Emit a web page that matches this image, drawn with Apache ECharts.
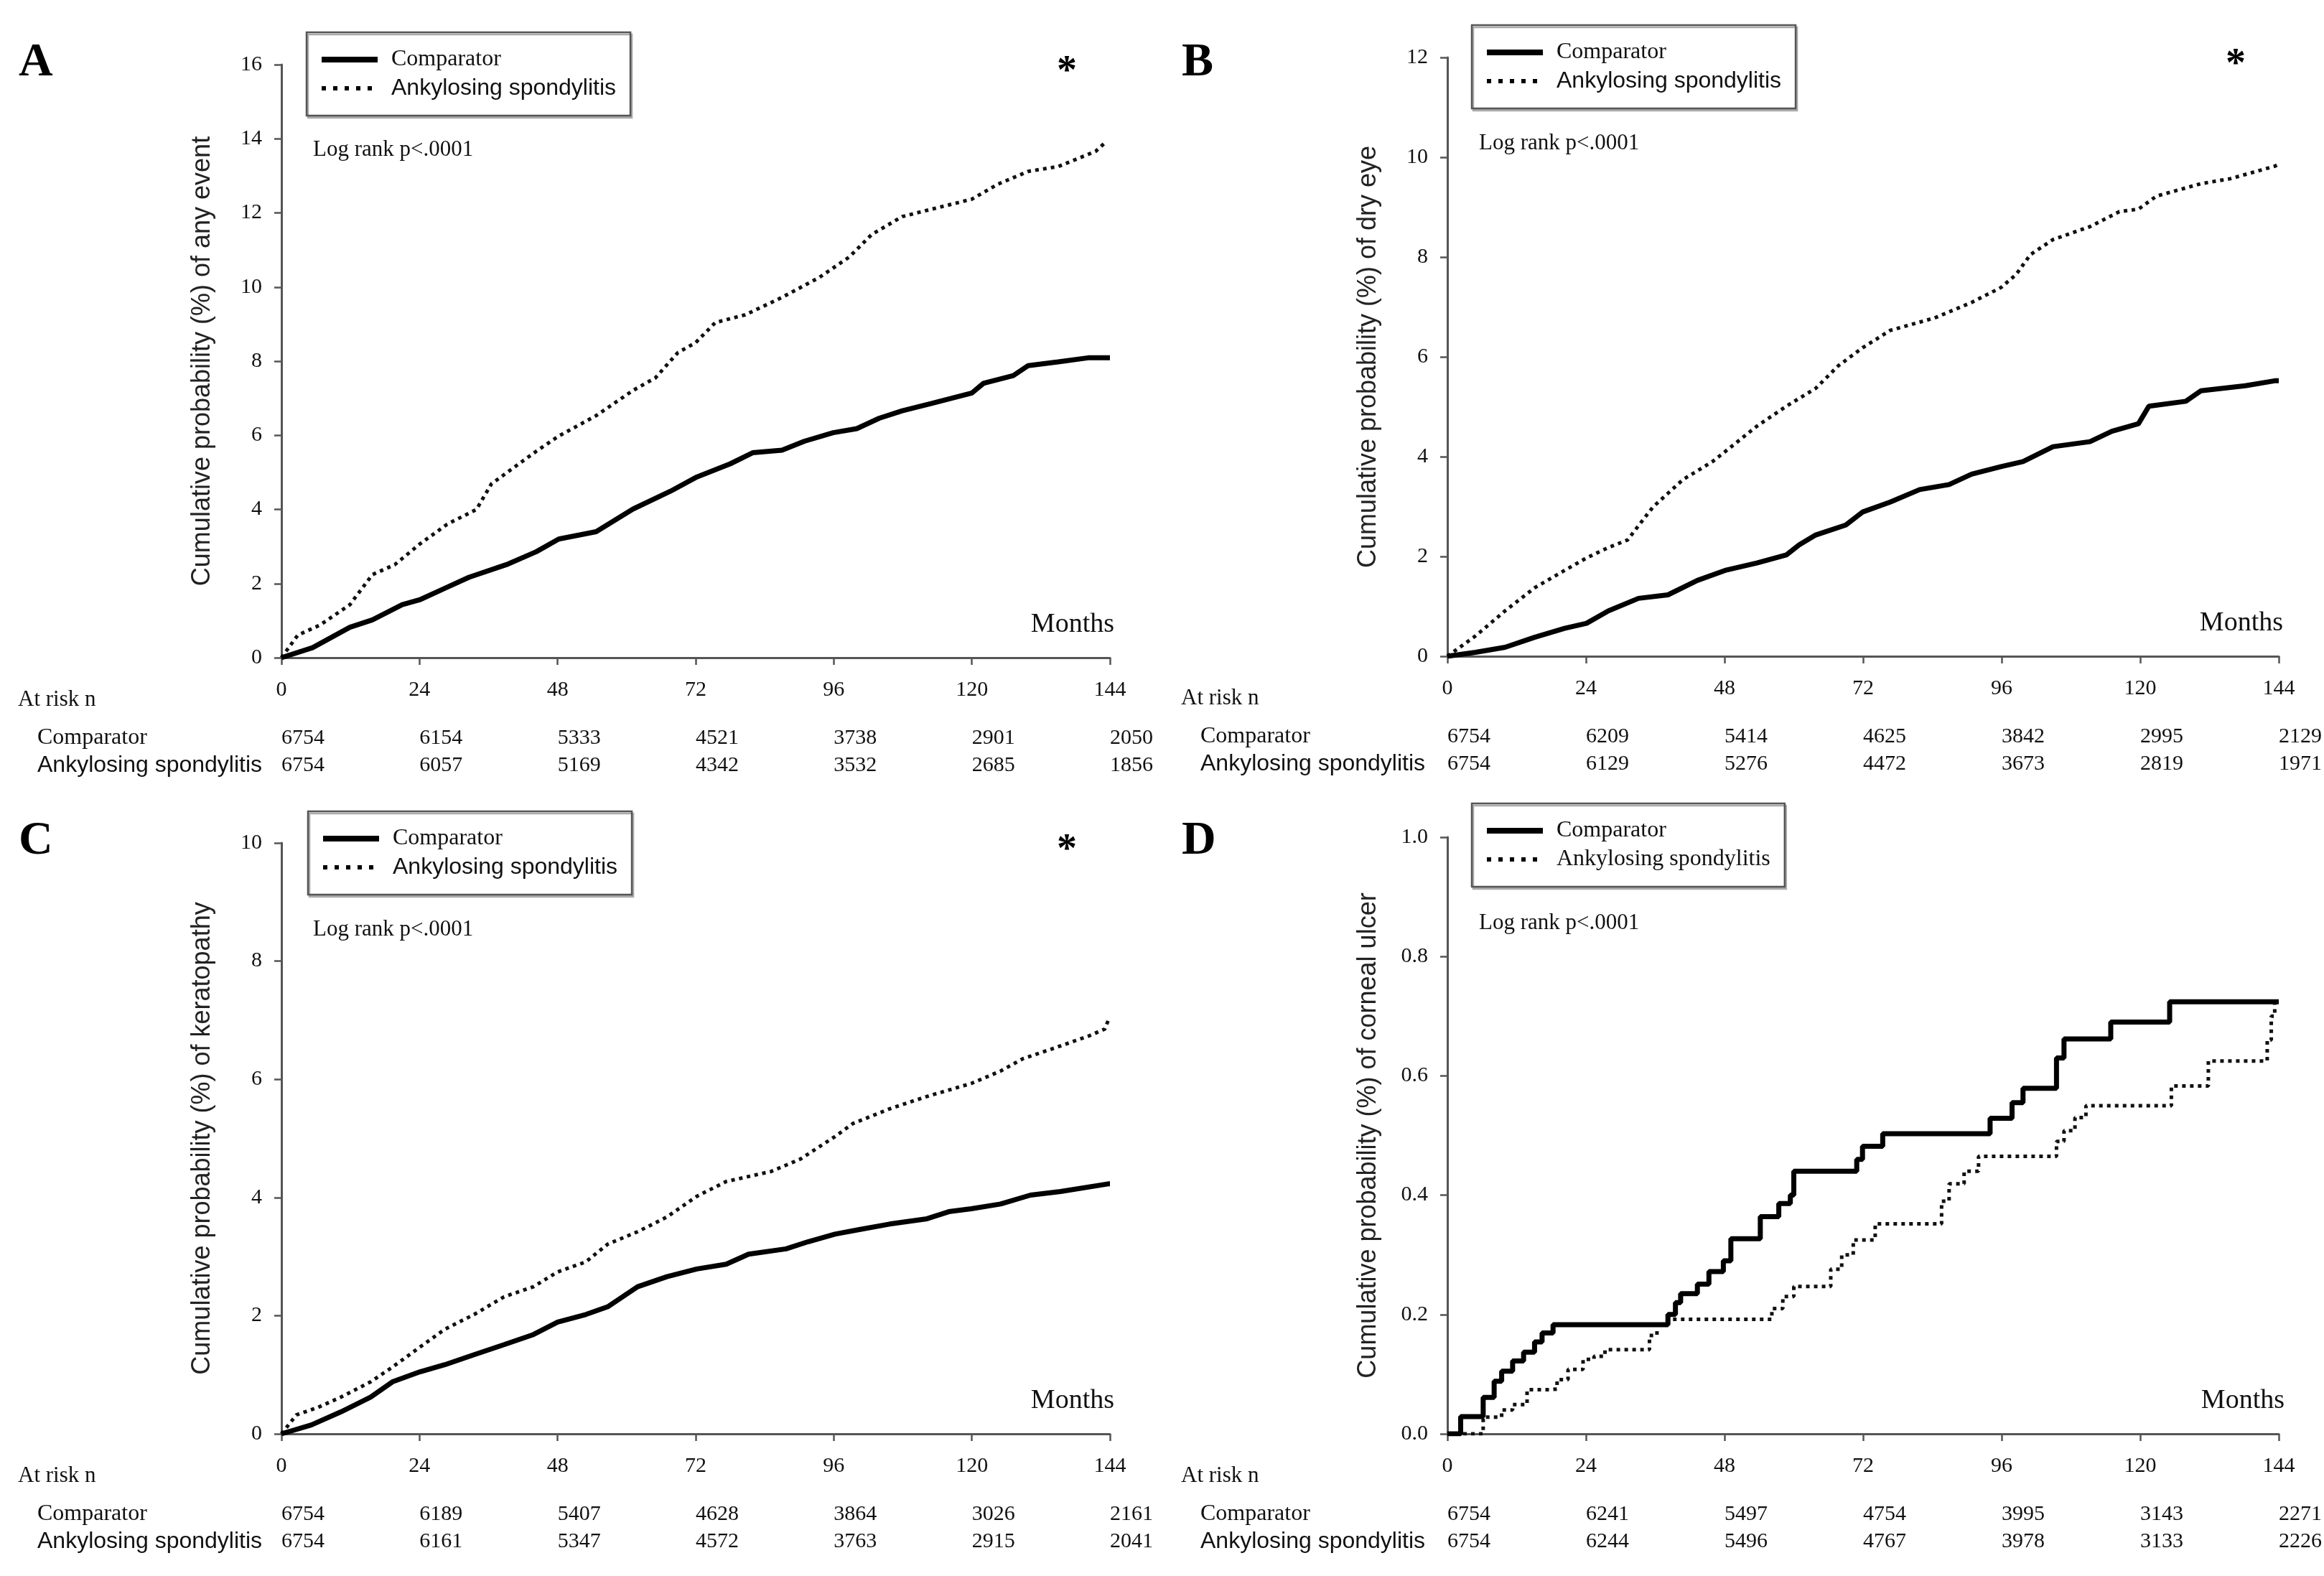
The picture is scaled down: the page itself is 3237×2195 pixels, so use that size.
<!DOCTYPE html>
<html>
<head>
<meta charset="utf-8">
<script src="https://cdn.jsdelivr.net/npm/echarts@6/dist/echarts.min.js"></script>
<style>html,body{margin:0;padding:0;background:#fff}#c{width:3237px;height:2195px}</style>
</head>
<body>
<div id="c"></div>
<script>
// ---------- DATA ----------
const monthTicks = [0, 24, 48, 72, 96, 120, 144];
const seriesNames = ['Comparator', 'Ankylosing spondylitis'];

// Panel A: any event
const tA_comp = [0,5.4,11.9,15.8,21,24,28.8,32.6,39.1,44.3,48.2,54.7,61.1,67.6,72,78,81.9,87,90.9,95.9,100,103.9,107.9,113,120,122,127.2,129.8,135,140.2,144];
const vA_comp = [0,0.27,0.82,1.02,1.43,1.56,1.9,2.17,2.51,2.86,3.2,3.4,4.01,4.49,4.86,5.23,5.53,5.6,5.84,6.07,6.18,6.46,6.66,6.86,7.14,7.4,7.61,7.88,7.98,8.09,8.09];
const tA_as = [0,2.85,6.7,11.9,15.8,19.7,24,28.8,33.9,36.5,44.3,48.2,54.7,61.1,65,68.9,72,75.4,80.6,87,93.5,98.7,102.6,107.9,113,120,124.6,129.8,135,141.5,143.4];
const vA_as = [0,0.61,0.88,1.43,2.24,2.51,3.06,3.6,4.0,4.69,5.57,5.98,6.53,7.21,7.55,8.23,8.5,9.04,9.25,9.72,10.26,10.81,11.42,11.9,12.1,12.37,12.78,13.12,13.25,13.66,13.93];
const riskA_comp = [6754, 6154, 5333, 4521, 3738, 2901, 2050];
const riskA_as = [6754, 6057, 5169, 4342, 3532, 2685, 1856];

// Panel B: dry eye
const tB_comp = [0,4.9,10,15.1,20.3,24.1,27.9,33.1,38.2,43.3,48.1,53.6,58.7,60.9,63.8,69,71.9,76.7,81.8,86.9,90.8,95.9,99.7,104.9,111.3,115.1,119.7,121.5,127.9,130.5,138.2,143.3,144];
const vB_comp = [0,0.08,0.18,0.38,0.56,0.66,0.91,1.16,1.23,1.52,1.72,1.87,2.03,2.23,2.43,2.63,2.89,3.09,3.34,3.44,3.65,3.8,3.9,4.2,4.3,4.51,4.66,5.01,5.11,5.32,5.42,5.52,5.52];
const tB_as = [0,4.9,10,15.1,20.3,24.1,27.9,31.2,35.6,40.8,45.9,48.1,53.6,58.7,63.8,67.7,71.9,76.7,84.4,90.8,95.9,98.5,101,104.9,111.3,116.4,119.7,122.8,130.5,135.6,143.3,144];
const vB_as = [0,0.41,0.91,1.37,1.72,1.97,2.18,2.33,2.99,3.54,3.9,4.1,4.61,5.01,5.37,5.82,6.18,6.53,6.78,7.09,7.39,7.65,8.05,8.35,8.61,8.91,8.96,9.22,9.47,9.57,9.82,9.86];
const riskB_comp = [6754, 6209, 5414, 4625, 3842, 2995, 2129];
const riskB_as = [6754, 6129, 5276, 4472, 3673, 2819, 1971];

// Panel C: keratopathy
const tC_comp = [0,5.2,10.3,15.5,19.3,24.1,28.4,33.5,38.7,43.8,48,52.9,56.7,59.3,61.9,67,72.2,77.3,81.2,87.7,91.5,96.2,100.6,105.7,112.2,116,119.9,125,130.2,135.4,143.7,144];
const vC_comp = [0,0.15,0.37,0.62,0.88,1.05,1.17,1.34,1.51,1.68,1.89,2.02,2.15,2.32,2.49,2.66,2.79,2.87,3.04,3.13,3.25,3.38,3.46,3.55,3.64,3.76,3.81,3.89,4.04,4.1,4.23,4.23];
const tC_as = [0,2.6,6.4,10.3,15.5,19.3,24.1,28.4,33.5,38.7,43.8,48,52.9,56.7,61.9,67,72.2,77.3,85.1,90.2,96.2,99.3,105.7,112.2,119.9,125,128.9,134.1,140.5,143.1,143.8];
const vC_as = [0,0.32,0.45,0.62,0.88,1.13,1.47,1.77,2.02,2.32,2.49,2.74,2.91,3.21,3.42,3.67,4.02,4.27,4.44,4.65,5.03,5.25,5.5,5.71,5.93,6.14,6.35,6.52,6.74,6.85,7.02];
const riskC_comp = [6754, 6189, 5407, 4628, 3864, 3026, 2161];
const riskC_as = [6754, 6161, 5347, 4572, 3763, 2915, 2041];

// Panel D: corneal ulcer (step function)
const tD_comp = [0,2.3,6.2,8.1,9.4,11.3,13.2,15.1,16.4,18.3,38.2,39.5,40.4,43.3,45.3,47.8,49.1,54.2,57.4,59.4,60,70.9,71.9,75.4,94,97.8,99.7,105.5,106.8,114.9,125.1,144];
const vD_comp = [0,0.029,0.061,0.088,0.105,0.122,0.137,0.154,0.169,0.183,0.2,0.22,0.235,0.251,0.272,0.29,0.327,0.364,0.386,0.40,0.44,0.46,0.482,0.503,0.529,0.555,0.579,0.63,0.662,0.69,0.724,0.724];
const tD_as = [0,6.2,9.4,11.3,13.8,17.7,19,20.9,23.5,25.4,27.3,35,36.3,38.2,56.2,58.1,60,66.4,68.3,70.3,74.1,85.6,86.9,89.5,92,105.5,106.8,108.7,110.6,125.4,131.8,142,142.7,143.3,144];
const vD_as = [0,0.028,0.04,0.049,0.074,0.075,0.091,0.108,0.125,0.13,0.141,0.165,0.183,0.192,0.21,0.23,0.247,0.276,0.3,0.325,0.352,0.39,0.419,0.44,0.465,0.49,0.508,0.53,0.55,0.583,0.625,0.66,0.7,0.722,0.722];
const riskD_comp = [6754, 6241, 5497, 4754, 3995, 3143, 2271];
const riskD_as = [6754, 6244, 5496, 4767, 3978, 3133, 2226];

const yTitles = [
  'Cumulative probability (%) of any event',
  'Cumulative probability (%) of dry eye',
  'Cumulative probability (%) of keratopathy',
  'Cumulative probability (%) of corneal ulcer'
];
const yMax = [16, 12, 10, 1.0];
const yInterval = [2, 2, 2, 0.2];
const panelLetters = ['A', 'B', 'C', 'D'];
const logRankText = 'Log rank p<.0001';
const starShown = [true, true, true, false];

// ---------- LAYOUT ----------
const SERIF = "'Liberation Serif', 'Times New Roman', serif";
const SANS = "'Liberation Sans', Arial, sans-serif";
const AXIS_COLOR = '#555';

const layout = [
  {left: 392, top: 90, w: 1154, h: 826, ox: 0, oy: 0, legend: [427, 45], logY: 209},
  {left: 2016, top: 80, w: 1158, h: 834, ox: 1620, oy: 0, legend: [2050, 35], logY: 200},
  {left: 392, top: 1174, w: 1154, h: 823, ox: 0, oy: 1084, legend: [429, 1130], logY: 1295},
  {left: 2016, top: 1166, w: 1160, h: 831, ox: 1620, oy: 1084, legend: [2050, 1119], logY: 1286}
];

const panels = [
  {tc: tA_comp, vc: vA_comp, ta: tA_as, va: vA_as, rc: riskA_comp, ra: riskA_as, step: false},
  {tc: tB_comp, vc: vB_comp, ta: tB_as, va: vB_as, rc: riskB_comp, ra: riskB_as, step: false},
  {tc: tC_comp, vc: vC_comp, ta: tC_as, va: vC_as, rc: riskC_comp, ra: riskC_as, step: false},
  {tc: tD_comp, vc: vD_comp, ta: tD_as, va: vD_as, rc: riskD_comp, ra: riskD_as, step: 'end'}
];

const grids = [], xAxes = [], yAxes = [], series = [], legends = [], graphics = [];
const hiddenSymbol = {color: 'rgba(0,0,0,0)', opacity: 0, borderWidth: 0};

panels.forEach((p, i) => {
  const L = layout[i];
  grids.push({left: L.left, top: L.top, width: L.w, height: L.h, containLabel: false});
  const gridBottom = L.top + L.h;
  xAxes.push({
    type: 'value', gridIndex: i, min: 0, max: 144, interval: 24,
    axisLine: {show: true, onZero: false, lineStyle: {color: AXIS_COLOR, width: 3}},
    axisTick: {show: true, length: 10, lineStyle: {color: AXIS_COLOR, width: 2.5}},
    axisLabel: {margin: 30, fontFamily: SERIF, fontSize: 30, color: '#111'},
    splitLine: {show: false}
  });
  [p.rc, p.ra].forEach((arr, k) => {
    xAxes.push({
      type: 'value', gridIndex: i, min: 0, max: 144, interval: 24, position: 'bottom',
      offset: k === 0 ? 97 : 135,
      axisLine: {show: false}, axisTick: {show: false}, splitLine: {show: false},
      axisLabel: {
        margin: 0, fontFamily: SERIF, fontSize: 30, color: '#111', align: 'left',
        formatter: v => { const idx = monthTicks.indexOf(v); return idx >= 0 ? String(arr[idx]) : ''; }
      }
    });
  });
  yAxes.push({
    type: 'value', gridIndex: i, min: 0, max: yMax[i], interval: yInterval[i],
    name: yTitles[i], nameLocation: 'middle', nameGap: 92, nameRotate: 90,
    nameTextStyle: {fontFamily: SANS, fontSize: 36, color: '#222'},
    axisLine: {show: true, lineStyle: {color: AXIS_COLOR, width: 3}},
    axisTick: {show: true, length: 10, lineStyle: {color: AXIS_COLOR, width: 2.5}},
    axisLabel: {margin: 27, fontFamily: SERIF, fontSize: 30, color: '#111',
      formatter: v => i === 3 ? v.toFixed(1) : String(v)},
    splitLine: {show: false}
  });
  const xi = i * 3;
  series.push({
    name: seriesNames[0], type: 'line', xAxisIndex: xi, yAxisIndex: i,
    data: p.tc.map((t, j) => [t, p.vc[j]]), step: p.step, symbol: 'none',
    itemStyle: {color: '#000'},
    lineStyle: {color: '#000', width: 7}, z: 3, animation: false
  });
  series.push({
    name: seriesNames[1], type: 'line', xAxisIndex: xi, yAxisIndex: i,
    data: p.ta.map((t, j) => [t, p.va[j]]), step: p.step, symbol: 'none',
    itemStyle: {color: '#000'},
    lineStyle: {color: '#111', width: 5, type: [5, 6], cap: 'butt'}, z: 2, animation: false
  });
  legends.push({
    left: L.legend[0], top: L.legend[1], orient: 'vertical',
    padding: [22, 20, 22, 17], itemGap: 8, itemWidth: 78, itemHeight: 22,
    borderColor: '#555', borderWidth: 2.5,
    shadowColor: '#aaa', shadowOffsetX: 2, shadowOffsetY: 3, shadowBlur: 0,
    backgroundColor: '#fff', selectedMode: false,
    data: [
      {name: seriesNames[0], itemStyle: hiddenSymbol,
       lineStyle: {width: 8, color: '#000', type: 'solid'},
       textStyle: {fontFamily: SERIF, fontSize: 32, color: '#111', padding: [0, 0, 0, 14]}},
      {name: seriesNames[1], itemStyle: hiddenSymbol,
       lineStyle: {width: 6, color: '#000', type: [6, 10], cap: 'butt'},
       textStyle: {fontFamily: i === 3 ? SERIF : SANS, fontSize: i === 3 ? 32 : 32, color: '#111', padding: [0, 0, 0, 14]}}
    ]
  });
  const ox = L.ox, oy = L.oy;
  graphics.push({type: 'text', left: ox + 26, top: oy + 55,
    style: {text: panelLetters[i], fontFamily: SERIF, fontWeight: 'bold', fontSize: 66, fill: '#000'}});
  graphics.push({type: 'text', x: L.left + 44, y: L.logY,
    style: {text: logRankText, fontFamily: SERIF, fontSize: 31, fill: '#111', textVerticalAlign: 'middle'}});
  if (starShown[i]) {
    graphics.push({type: 'text', x: L.left + L.w - 60, y: L.top + 12,
      style: {text: '*', fontFamily: SERIF, fontWeight: 'bold', fontSize: 56, fill: '#000', textAlign: 'center', textVerticalAlign: 'middle'}});
  }
  graphics.push({type: 'text', x: L.left + L.w + 6, y: gridBottom - 46,
    style: {text: 'Months', fontFamily: SERIF, fontSize: 38, fill: '#111', textAlign: 'right', textVerticalAlign: 'middle'}});
  graphics.push({type: 'text', x: ox + 25, y: gridBottom + 59,
    style: {text: 'At risk n', fontFamily: SERIF, fontSize: 31, fill: '#111', textVerticalAlign: 'middle'}});
  graphics.push({type: 'text', x: ox + 52, y: gridBottom + 112,
    style: {text: seriesNames[0], fontFamily: SERIF, fontSize: 32, fill: '#111', textVerticalAlign: 'middle'}});
  graphics.push({type: 'text', x: ox + 52, y: gridBottom + 150,
    style: {text: seriesNames[1], fontFamily: SANS, fontSize: 32, fill: '#111', textVerticalAlign: 'middle'}});
});

const chart = echarts.init(document.getElementById('c'));
chart.setOption({
  animation: false,
  backgroundColor: '#fff',
  grid: grids, xAxis: xAxes, yAxis: yAxes, series: series, legend: legends, graphic: graphics
});
</script>
</body>
</html>
